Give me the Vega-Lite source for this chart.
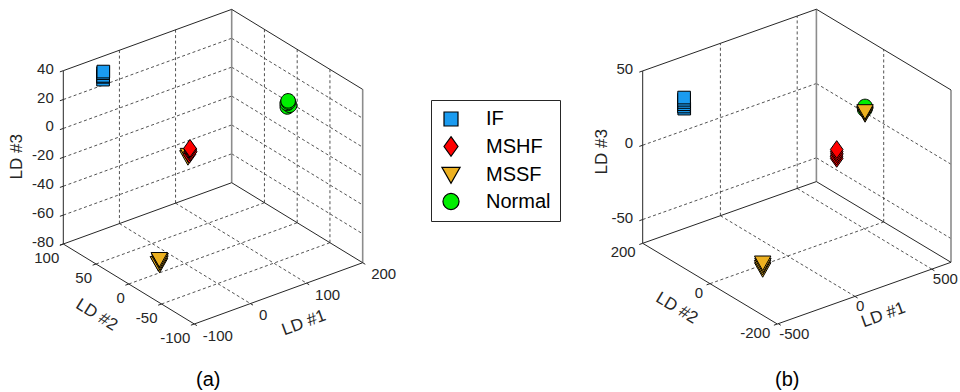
{
 "$schema": "https://vega.github.io/schema/vega-lite/v6.json",
 "width": 960, "height": 392, "padding": 0, "autosize": {"type": "none"},
 "background": "white",
 "config": {"view": {"stroke": null}, "text": {"font": "Liberation Sans"}},
 "data": {"values": [
  {"k":"edge","p":"a","l1":-100,"l2":100,"l3":40,"m1":200,"m2":100,"m3":40},
  {"k":"edge","p":"a","l1":200,"l2":100,"l3":40,"m1":200,"m2":-100,"m3":40},
  {"k":"edge","p":"a","l1":-100,"l2":100,"l3":-80,"m1":-100,"m2":100,"m3":40},
  {"k":"edge","p":"a","l1":-100,"l2":100,"l3":-80,"m1":200,"m2":100,"m3":-80},
  {"k":"edge","p":"a","l1":200,"l2":100,"l3":-80,"m1":200,"m2":-100,"m3":-80},
  {"k":"edge","p":"a","l1":-100,"l2":100,"l3":-80,"m1":-100,"m2":-100,"m3":-80},
  {"k":"edge","p":"a","l1":-100,"l2":-100,"l3":-80,"m1":200,"m2":-100,"m3":-80},
  {"k":"back","p":"a","l1":200,"l2":100,"l3":-80,"m1":200,"m2":100,"m3":40},
  {"k":"back","p":"a","l1":200,"l2":-100,"l3":-80,"m1":200,"m2":-100,"m3":40},
  {"k":"grid","p":"a","l1":0,"l2":100,"l3":-80,"m1":0,"m2":100,"m3":40},
  {"k":"grid","p":"a","l1":100,"l2":100,"l3":-80,"m1":100,"m2":100,"m3":40},
  {"k":"grid","p":"a","l1":-100,"l2":100,"l3":-60,"m1":200,"m2":100,"m3":-60},
  {"k":"grid","p":"a","l1":-100,"l2":100,"l3":-40,"m1":200,"m2":100,"m3":-40},
  {"k":"grid","p":"a","l1":-100,"l2":100,"l3":-20,"m1":200,"m2":100,"m3":-20},
  {"k":"grid","p":"a","l1":-100,"l2":100,"l3":0,"m1":200,"m2":100,"m3":0},
  {"k":"grid","p":"a","l1":-100,"l2":100,"l3":20,"m1":200,"m2":100,"m3":20},
  {"k":"grid","p":"a","l1":200,"l2":50,"l3":-80,"m1":200,"m2":50,"m3":40},
  {"k":"grid","p":"a","l1":200,"l2":0,"l3":-80,"m1":200,"m2":0,"m3":40},
  {"k":"grid","p":"a","l1":200,"l2":-50,"l3":-80,"m1":200,"m2":-50,"m3":40},
  {"k":"grid","p":"a","l1":200,"l2":100,"l3":-60,"m1":200,"m2":-100,"m3":-60},
  {"k":"grid","p":"a","l1":200,"l2":100,"l3":-40,"m1":200,"m2":-100,"m3":-40},
  {"k":"grid","p":"a","l1":200,"l2":100,"l3":-20,"m1":200,"m2":-100,"m3":-20},
  {"k":"grid","p":"a","l1":200,"l2":100,"l3":0,"m1":200,"m2":-100,"m3":0},
  {"k":"grid","p":"a","l1":200,"l2":100,"l3":20,"m1":200,"m2":-100,"m3":20},
  {"k":"grid","p":"a","l1":0,"l2":100,"l3":-80,"m1":0,"m2":-100,"m3":-80},
  {"k":"grid","p":"a","l1":100,"l2":100,"l3":-80,"m1":100,"m2":-100,"m3":-80},
  {"k":"grid","p":"a","l1":-100,"l2":50,"l3":-80,"m1":200,"m2":50,"m3":-80},
  {"k":"grid","p":"a","l1":-100,"l2":0,"l3":-80,"m1":200,"m2":0,"m3":-80},
  {"k":"grid","p":"a","l1":-100,"l2":-50,"l3":-80,"m1":200,"m2":-50,"m3":-80},

  {"k":"edge","p":"b","l1":-506,"l2":200,"l3":50,"m1":625,"m2":200,"m3":50},
  {"k":"edge","p":"b","l1":625,"l2":200,"l3":50,"m1":625,"m2":-200,"m3":50},
  {"k":"edge","p":"b","l1":-506,"l2":200,"l3":-66,"m1":-506,"m2":200,"m3":50},
  {"k":"edge","p":"b","l1":-506,"l2":200,"l3":-66,"m1":625,"m2":200,"m3":-66},
  {"k":"edge","p":"b","l1":625,"l2":200,"l3":-66,"m1":625,"m2":-200,"m3":-66},
  {"k":"edge","p":"b","l1":-506,"l2":200,"l3":-66,"m1":-506,"m2":-200,"m3":-66},
  {"k":"edge","p":"b","l1":-506,"l2":-200,"l3":-66,"m1":625,"m2":-200,"m3":-66},
  {"k":"back","p":"b","l1":625,"l2":200,"l3":-66,"m1":625,"m2":200,"m3":50},
  {"k":"back","p":"b","l1":625,"l2":-200,"l3":-66,"m1":625,"m2":-200,"m3":50},
  {"k":"grid","p":"b","l1":0,"l2":200,"l3":-66,"m1":0,"m2":200,"m3":50},
  {"k":"grid","p":"b","l1":500,"l2":200,"l3":-66,"m1":500,"m2":200,"m3":50},
  {"k":"grid","p":"b","l1":-506,"l2":200,"l3":0,"m1":625,"m2":200,"m3":0},
  {"k":"grid","p":"b","l1":-506,"l2":200,"l3":-50,"m1":625,"m2":200,"m3":-50},
  {"k":"grid","p":"b","l1":625,"l2":0,"l3":-66,"m1":625,"m2":0,"m3":50},
  {"k":"grid","p":"b","l1":625,"l2":200,"l3":0,"m1":625,"m2":-200,"m3":0},
  {"k":"grid","p":"b","l1":625,"l2":200,"l3":-50,"m1":625,"m2":-200,"m3":-50},
  {"k":"grid","p":"b","l1":0,"l2":200,"l3":-66,"m1":0,"m2":-200,"m3":-66},
  {"k":"grid","p":"b","l1":500,"l2":200,"l3":-66,"m1":500,"m2":-200,"m3":-66},
  {"k":"grid","p":"b","l1":-506,"l2":0,"l3":-66,"m1":625,"m2":0,"m3":-66},

  {"k":"tick","p":"a","ax":"z","l1":-100,"l2":100,"l3":-80,"t":"-80"},
  {"k":"tick","p":"a","ax":"z","l1":-100,"l2":100,"l3":-60,"t":"-60"},
  {"k":"tick","p":"a","ax":"z","l1":-100,"l2":100,"l3":-40,"t":"-40"},
  {"k":"tick","p":"a","ax":"z","l1":-100,"l2":100,"l3":-20,"t":"-20"},
  {"k":"tick","p":"a","ax":"z","l1":-100,"l2":100,"l3":0,"t":"0"},
  {"k":"tick","p":"a","ax":"z","l1":-100,"l2":100,"l3":20,"t":"20"},
  {"k":"tick","p":"a","ax":"z","l1":-100,"l2":100,"l3":40,"t":"40"},
  {"k":"tick","p":"a","ax":"y","l1":-100,"l2":100,"l3":-80,"t":"100"},
  {"k":"tick","p":"a","ax":"y","l1":-100,"l2":50,"l3":-80,"t":"50"},
  {"k":"tick","p":"a","ax":"y","l1":-100,"l2":0,"l3":-80,"t":"0"},
  {"k":"tick","p":"a","ax":"y","l1":-100,"l2":-50,"l3":-80,"t":"-50"},
  {"k":"tick","p":"a","ax":"y","l1":-100,"l2":-100,"l3":-80,"t":"-100"},
  {"k":"tick","p":"a","ax":"x","l1":-100,"l2":-100,"l3":-80,"t":"-100"},
  {"k":"tick","p":"a","ax":"x","l1":0,"l2":-100,"l3":-80,"t":"0"},
  {"k":"tick","p":"a","ax":"x","l1":100,"l2":-100,"l3":-80,"t":"100"},
  {"k":"tick","p":"a","ax":"x","l1":200,"l2":-100,"l3":-80,"t":"200"},
  {"k":"tick","p":"b","ax":"z","l1":-506,"l2":200,"l3":-50,"t":"-50"},
  {"k":"tick","p":"b","ax":"z","l1":-506,"l2":200,"l3":0,"t":"0"},
  {"k":"tick","p":"b","ax":"z","l1":-506,"l2":200,"l3":50,"t":"50"},
  {"k":"tick","p":"b","ax":"y","l1":-506,"l2":200,"l3":-66,"t":"200"},
  {"k":"tick","p":"b","ax":"y","l1":-506,"l2":0,"l3":-66,"t":"0"},
  {"k":"tick","p":"b","ax":"y","l1":-506,"l2":-200,"l3":-66,"t":"-200"},
  {"k":"tick","p":"b","ax":"x","l1":-500,"l2":-200,"l3":-66,"t":"-500"},
  {"k":"tick","p":"b","ax":"x","l1":0,"l2":-200,"l3":-66,"t":"0"},
  {"k":"tick","p":"b","ax":"x","l1":500,"l2":-200,"l3":-66,"t":"500"},

  {"k":"ttl","p":"a","ax":"z","l1":-100,"l2":100,"l3":-20,"t":"LD #3"},
  {"k":"ttl","p":"a","ax":"x","l1":50,"l2":-100,"l3":-80,"t":"LD #1"},
  {"k":"ttl","p":"a","ax":"y","l1":-100,"l2":0,"l3":-80,"t":"LD #2"},
  {"k":"ttl","p":"b","ax":"z","l1":-506,"l2":200,"l3":-8,"t":"LD #3"},
  {"k":"ttl","p":"b","ax":"x","l1":59.5,"l2":-200,"l3":-66,"t":"LD #1"},
  {"k":"ttl","p":"b","ax":"y","l1":-506,"l2":0,"l3":-66,"t":"LD #2"},
  {"k":"cap","p":"a","l1":-100,"l2":-100,"l3":-80,"t":"(a)"},
  {"k":"cap","p":"b","l1":-506,"l2":-200,"l3":-66,"t":"(b)"},

  {"k":"pt","p":"a","c":"IF","l1":-35,"l2":95,"l3":26},
  {"k":"pt","p":"a","c":"IF","l1":-34,"l2":96,"l3":27.5},
  {"k":"pt","p":"a","c":"IF","l1":-36,"l2":94,"l3":29},
  {"k":"pt","p":"a","c":"IF","l1":-35,"l2":95,"l3":30.5},
  {"k":"pt","p":"a","c":"IF","l1":-34.5,"l2":95,"l3":31.5},
  {"k":"pt","p":"b","c":"IF","l1":-345,"l2":150,"l3":25.5},
  {"k":"pt","p":"b","c":"IF","l1":-347,"l2":150,"l3":27},
  {"k":"pt","p":"b","c":"IF","l1":-346,"l2":150,"l3":28.5},
  {"k":"pt","p":"b","c":"IF","l1":-345.5,"l2":150,"l3":30},
  {"k":"pt","p":"b","c":"IF","l1":-346.5,"l2":150,"l3":31.5},
  {"k":"pt","p":"b","c":"IF","l1":-346,"l2":150,"l3":33},
  {"k":"pt","p":"a","c":"Normal","l1":159,"l2":-20,"l3":11.5},
  {"k":"pt","p":"a","c":"Normal","l1":162,"l2":-21,"l3":12.5},
  {"k":"pt","p":"a","c":"Normal","l1":160,"l2":-19,"l3":13.5},
  {"k":"pt","p":"a","c":"Normal","l1":161,"l2":-20,"l3":14.5},
  {"k":"pt","p":"a","c":"Normal","l1":160.5,"l2":-20,"l3":15.5},
  {"k":"pt","p":"b","c":"Normal","l1":392,"l2":-50,"l3":25},
  {"k":"pt","p":"b","c":"Normal","l1":396,"l2":-50,"l3":26},
  {"k":"pt","p":"b","c":"Normal","l1":394,"l2":-50,"l3":27},
  {"k":"pt","p":"a","c":"MSSF","l1":-51,"l2":-5,"l3":-72.5},
  {"k":"pt","p":"a","c":"MSSF","l1":-52,"l2":-4,"l3":-71.5},
  {"k":"pt","p":"a","c":"MSSF","l1":-51.5,"l2":-6,"l3":-70.5},
  {"k":"pt","p":"a","c":"MSSF","l1":-50.5,"l2":-5,"l3":-69.5},
  {"k":"pt","p":"a","c":"MSSF","l1":-51.5,"l2":-5,"l3":-68.5},
  {"k":"pt","p":"a","c":"MSSF","l1":3,"l2":-2,"l3":-6.5},
  {"k":"pt","p":"a","c":"MSSF","l1":5,"l2":-1,"l3":-5.5},
  {"k":"pt","p":"b","c":"MSSF","l1":394,"l2":-50,"l3":21.5},
  {"k":"pt","p":"b","c":"MSSF","l1":393,"l2":-50,"l3":22.5},
  {"k":"pt","p":"b","c":"MSSF","l1":394,"l2":-50,"l3":23.5},
  {"k":"pt","p":"b","c":"MSSF","l1":-235.6,"l2":-33.2,"l3":-62},
  {"k":"pt","p":"b","c":"MSSF","l1":-236,"l2":-33,"l3":-60.5},
  {"k":"pt","p":"b","c":"MSSF","l1":-235,"l2":-33.5,"l3":-59},
  {"k":"pt","p":"b","c":"MSSF","l1":-235.6,"l2":-33.2,"l3":-57.5},
  {"k":"pt","p":"a","c":"MSHF","l1":8,"l2":0,"l3":-5.5},
  {"k":"pt","p":"a","c":"MSHF","l1":10,"l2":1,"l3":-4.5},
  {"k":"pt","p":"a","c":"MSHF","l1":9,"l2":-1,"l3":-3.5},
  {"k":"pt","p":"a","c":"MSHF","l1":9.5,"l2":0,"l3":-2.5},
  {"k":"pt","p":"a","c":"MSHF","l1":9,"l2":0,"l3":-1.5},
  {"k":"pt","p":"b","c":"MSHF","l1":319,"l2":0,"l3":-12},
  {"k":"pt","p":"b","c":"MSHF","l1":318,"l2":0,"l3":-10.5},
  {"k":"pt","p":"b","c":"MSHF","l1":320,"l2":0,"l3":-9},
  {"k":"pt","p":"b","c":"MSHF","l1":319,"l2":0,"l3":-7.5},
  {"k":"pt","p":"b","c":"MSHF","l1":319,"l2":0,"l3":-6}
 ]},
 "transform": [
  {"calculate": "datum.p=='a' ? 194.3+0.5613*(datum.l1+100)-0.655*(datum.l2+100) : 777.3+0.15358*(datum.l1+506)-0.3365*(datum.l2+200)", "as": "sx"},
  {"calculate": "datum.p=='a' ? 324-0.2043*(datum.l1+100)-0.4*(datum.l2+100)-1.4444*(datum.l3+80) : 324-0.05455*(datum.l1+506)-0.20175*(datum.l2+200)-1.486*(datum.l3+66)", "as": "sy"},
  {"calculate": "datum.p=='a' ? 194.3+0.5613*(datum.m1+100)-0.655*(datum.m2+100) : 777.3+0.15358*(datum.m1+506)-0.3365*(datum.m2+200)", "as": "sx2"},
  {"calculate": "datum.p=='a' ? 324-0.2043*(datum.m1+100)-0.4*(datum.m2+100)-1.4444*(datum.m3+80) : 324-0.05455*(datum.m1+506)-0.20175*(datum.m2+200)-1.486*(datum.m3+66)", "as": "sy2"}
 ],
 "encoding": {
  "x": {"field": "sx", "type": "quantitative", "scale": {"domain": [0, 960], "nice": false, "zero": false}, "axis": null},
  "y": {"field": "sy", "type": "quantitative", "scale": {"domain": [0, 392], "nice": false, "zero": false, "reverse": true}, "axis": null}
 },
 "layer": [
  {"transform": [{"filter": "datum.k=='grid'"}],
   "mark": {"type": "rule", "stroke": "#262626", "strokeWidth": 0.8, "strokeDash": [3, 2.5]},
   "encoding": {"x2": {"field": "sx2"}, "y2": {"field": "sy2"}}},
  {"transform": [{"filter": "datum.k=='back'"}],
   "mark": {"type": "rule", "stroke": "#8c8c8c", "strokeWidth": 1.6},
   "encoding": {"x2": {"field": "sx2"}, "y2": {"field": "sy2"}}},
  {"transform": [{"filter": "datum.k=='edge'"}],
   "mark": {"type": "rule", "stroke": "#262626", "strokeWidth": 1},
   "encoding": {"x2": {"field": "sx2"}, "y2": {"field": "sy2"}}},
  {"transform": [{"filter": "datum.k=='tick' && datum.ax!='x'"}],
   "mark": {"type": "rule", "stroke": "#262626", "strokeWidth": 1, "x2Offset": -3.4, "y2Offset": 1.2},
   "encoding": {"x2": {"field": "sx"}, "y2": {"field": "sy"}}},
  {"transform": [{"filter": "datum.k=='tick' && datum.ax=='x'"}],
   "mark": {"type": "rule", "stroke": "#262626", "strokeWidth": 1, "x2Offset": 2.6, "y2Offset": 1.6},
   "encoding": {"x2": {"field": "sx"}, "y2": {"field": "sy"}}},
  {"transform": [{"filter": "datum.k=='pt'"}],
   "mark": {"type": "point", "filled": true, "size": 160, "stroke": "black", "strokeWidth": 1, "opacity": 1},
   "encoding": {
    "color": {"field": "c", "type": "nominal",
     "scale": {"domain": ["IF", "MSHF", "MSSF", "Normal"], "range": ["#1a9bf0", "#ff0000", "#edb120", "#00ee00"]},
     "legend": {"orient": "none", "legendX": 431, "legendY": 100, "title": null, "padding": 9, "strokeColor": "#262626", "fillColor": "white", "symbolSize": 196, "symbolStrokeColor": "black", "symbolStrokeWidth": 1.2, "labelFont": "Liberation Sans", "labelFontSize": 20, "labelColor": "black", "labelOffset": 25, "rowPadding": 4.5, "symbolOffset": 1}},
    "shape": {"field": "c", "type": "nominal",
     "scale": {"domain": ["IF", "MSHF", "MSSF", "Normal"], "range": ["square", "M0,-1.4L1,0L0,1.4L-1,0Z", "M-1.3,-1.1L1.3,-1.1L0,1.2Z", "M1.15,0A1.15,1.15,0,1,1,-1.15,0A1.15,1.15,0,1,1,1.15,0Z"]},
     "legend": {"orient": "none", "legendX": 431, "legendY": 100, "title": null, "padding": 9, "strokeColor": "#262626", "fillColor": "white", "symbolSize": 196, "symbolStrokeColor": "black", "symbolStrokeWidth": 1.2, "labelFont": "Liberation Sans", "labelFontSize": 20, "labelColor": "black", "labelOffset": 25, "rowPadding": 4.5, "symbolOffset": 1}}
   }},
  {"transform": [{"filter": "datum.k=='tick' && datum.ax=='z'"}],
   "mark": {"type": "text", "align": "right", "baseline": "middle", "dx": -9.5, "dy": -2, "fontSize": 15, "color": "#262626"},
   "encoding": {"text": {"field": "t"}}},
  {"transform": [{"filter": "datum.k=='tick' && datum.ax=='y' && datum.p=='a'"}],
   "mark": {"type": "text", "align": "right", "baseline": "middle", "dx": -4, "dy": 14, "fontSize": 15, "color": "#262626"},
   "encoding": {"text": {"field": "t"}}},
  {"transform": [{"filter": "datum.k=='tick' && datum.ax=='y' && datum.p=='b'"}],
   "mark": {"type": "text", "align": "right", "baseline": "middle", "dx": -7, "dy": 9, "fontSize": 15, "color": "#262626"},
   "encoding": {"text": {"field": "t"}}},
  {"transform": [{"filter": "datum.k=='tick' && datum.ax=='x' && datum.p=='a'"}],
   "mark": {"type": "text", "align": "left", "baseline": "middle", "dx": 8.5, "dy": 11.5, "fontSize": 15, "color": "#262626"},
   "encoding": {"text": {"field": "t"}}},
  {"transform": [{"filter": "datum.k=='tick' && datum.ax=='x' && datum.p=='b'"}],
   "mark": {"type": "text", "align": "left", "baseline": "middle", "dx": 1, "dy": 10, "fontSize": 15, "color": "#262626"},
   "encoding": {"text": {"field": "t"}}},
  {"transform": [{"filter": "datum.k=='ttl' && datum.p=='a' && datum.ax=='z'"}],
   "mark": {"type": "text", "align": "center", "baseline": "middle", "angle": -90, "dx": 0.6, "dy": -46.6, "fontSize": 17, "color": "#262626"},
   "encoding": {"text": {"field": "t"}}},
  {"transform": [{"filter": "datum.k=='ttl' && datum.p=='b' && datum.ax=='z'"}],
   "mark": {"type": "text", "align": "center", "baseline": "middle", "angle": -90, "dx": 5.4, "dy": -41, "fontSize": 17, "color": "#262626"},
   "encoding": {"text": {"field": "t"}}},
  {"transform": [{"filter": "datum.k=='ttl' && datum.p=='a' && datum.ax=='x'"}],
   "mark": {"type": "text", "align": "center", "baseline": "middle", "angle": -20, "dx": 13.8, "dy": 36.5, "fontSize": 17, "color": "#262626"},
   "encoding": {"text": {"field": "t"}}},
  {"transform": [{"filter": "datum.k=='ttl' && datum.p=='b' && datum.ax=='x'"}],
   "mark": {"type": "text", "align": "center", "baseline": "middle", "angle": -20, "dx": 10.6, "dy": 27.1, "fontSize": 17, "color": "#262626"},
   "encoding": {"text": {"field": "t"}}},
  {"transform": [{"filter": "datum.k=='ttl' && datum.p=='a' && datum.ax=='y'"}],
   "mark": {"type": "text", "align": "center", "baseline": "middle", "angle": 32, "dx": -10.8, "dy": 43.3, "fontSize": 17, "color": "#262626"},
   "encoding": {"text": {"field": "t"}}},
  {"transform": [{"filter": "datum.k=='ttl' && datum.p=='b' && datum.ax=='y'"}],
   "mark": {"type": "text", "align": "center", "baseline": "middle", "angle": 31, "dx": -15.8, "dy": 38.2, "fontSize": 17, "color": "#262626"},
   "encoding": {"text": {"field": "t"}}},
  {"transform": [{"filter": "datum.k=='cap' && datum.p=='a'"}],
   "mark": {"type": "text", "align": "center", "baseline": "middle", "dx": 14, "dy": 56, "fontSize": 20, "color": "black"},
   "encoding": {"text": {"field": "t"}}},
  {"transform": [{"filter": "datum.k=='cap' && datum.p=='b'"}],
   "mark": {"type": "text", "align": "center", "baseline": "middle", "dx": 10, "dy": 56, "fontSize": 20, "color": "black"},
   "encoding": {"text": {"field": "t"}}}
 ]
}
